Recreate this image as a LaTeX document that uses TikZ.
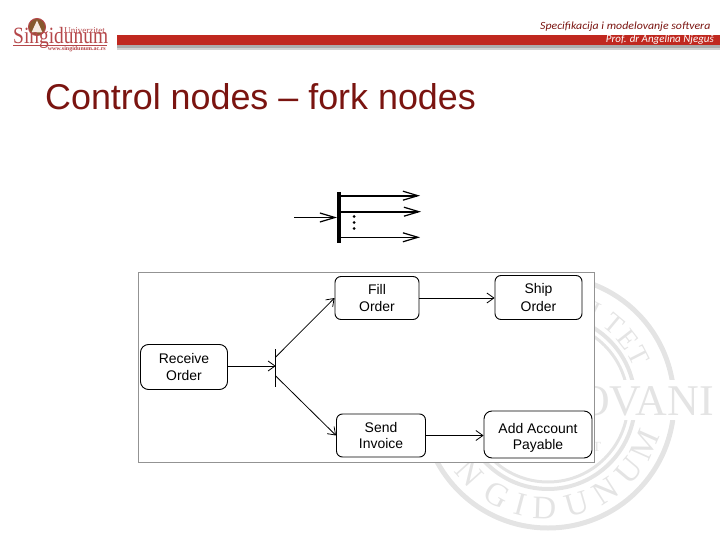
\documentclass[tikz,border=0pt]{standalone}
\usepackage{graphicx}
\usepackage{fontspec}
\setmainfont{Liberation Sans}
\newfontfamily\serifwm{Liberation Serif}
\newfontfamily\hdrfont{Carlito}
\usetikzlibrary{arrows.meta}
\definecolor{barred}{HTML}{C0281F}
\definecolor{titlecol}{HTML}{7A1410}
\definecolor{wm}{HTML}{E4E4E4}
\definecolor{logored}{HTML}{B5474A}
\tikzset{
  x=1bp,y=-1bp,
  act/.style={draw=black,line width=0.9bp,fill=white,rounded corners=6bp,align=center,inner sep=0pt,minimum width=#1},
  tall/.style={font=\fontsize{14}{18}\selectfont},
  short/.style={font=\fontsize{14}{16}\selectfont},
  flow/.style={draw=black,line width=0.8bp,-{Straight Barb[length=7bp,width=10bp,line width=0.8bp]}},
  sym/.style={draw=black,-{Straight Barb[length=15bp,width=9bp,line width=1.2bp]}},
  wmletter/.style={text=wm,font=\serifwm\fontsize{33}{33}\selectfont,inner sep=0pt},
  wmtop/.style={text=wm,font=\serifwm\fontsize{28}{28}\selectfont,inner sep=0pt},
}
\begin{document}
\begin{tikzpicture}
\useasboundingbox (0,0) rectangle (720,540);
% watermark
\draw[wm,line width=5bp] (548,402) circle (126);
\draw[wm,line width=4bp] (548,402) circle (87);
\draw[wm,line width=3bp] (548,402) circle (80);
\foreach \l/\a [count=\i] in {I/63,T/50,E/38,T/27}{
  \node[wmtop,rotate=\a-90] (top\i) at ({548+102*cos(\a)},{402-102*sin(\a)}) {\l};
}
\foreach \l/\a [count=\i] in {N/222,G/241,I/255,D/268,U/286,N/303,U/320,M/336}{
  \node[wmletter,rotate=\a+90] (bot\i) at ({548+106*cos(\a)},{402-106*sin(\a)}) {\l};
}
\fill[white] (420,380) rectangle (720,420);
\node[text=wm,font=\serifwm\fontsize{44}{44}\selectfont,anchor=base east,inner sep=0pt] (wmt) at (714,415) {OVANI};
\node[text=wm,font=\serifwm\fontsize{14}{14}\selectfont,inner sep=0pt] (wmsmall) at (597,447) {T};
% header bar
\fill[gray!35] (117,46) rectangle (720,50);
\fill[gray!65] (117,45) rectangle (720,48);
\fill[barred] (117,35) rectangle (720,45.5);
\node[font=\hdrfont\itshape\fontsize{11}{11}\selectfont,text=titlecol,anchor=base west,inner sep=0pt] (h1) at (540,29.5) {\scalebox{1.08}[1]{Specifikacija i modelovanje softvera}};
\node[font=\hdrfont\itshape\fontsize{11}{11}\selectfont,text=white,anchor=east,inner sep=0pt] (h2) at (714,40) {Prof. dr Angelina Njeguš};
% logo
\draw[draw=logored,fill=brown!70!black,line width=1bp] (37,27) circle (8.5);
\fill[white!85!brown] (37,20.5) -- (42.5,32.5) -- (31.5,32.5) -- cycle;
\node[font=\serifwm\fontsize{19.5}{20}\selectfont,text=logored,anchor=base west,inner sep=0pt] (l1) at (13,44) {\scalebox{1}[1.2]{Singidunum}};
\draw[logored,line width=0.5bp] (13,45.5) -- (107,45.5);
\node[font=\serifwm\fontsize{9}{9}\selectfont,text=logored,anchor=base east,inner sep=0pt] (l2) at (105,33.5) {Univerzitet};
\node[font=\serifwm\bfseries\fontsize{6}{6}\selectfont,text=logored,anchor=base east,inner sep=0pt] (l3) at (106,51) {www.singidunum.ac.rs};
% title
\node[font=\fontsize{36}{36}\selectfont,text=titlecol,anchor=base west,inner sep=0pt] (title) at (45,110) {Control nodes – fork nodes};
% fork symbol
\coordinate (sb1) at (339,192); \coordinate (sb2) at (339,243);
\draw[line width=3.5bp] (sb1) -- (sb2);
\coordinate (in0) at (294,217.5); \coordinate (in1) at (337,217.5);
\draw[sym,line width=1.8bp] (in0) -- (in1);
\coordinate (o1a) at (341,195.7); \coordinate (o1b) at (420,195.7);
\coordinate (o2a) at (341,211.7); \coordinate (o2b) at (421,211.7);
\coordinate (o3a) at (341,237.3); \coordinate (o3b) at (420,237.3);
\draw[sym,line width=1.8bp] (o1a) -- (o1b);
\draw[sym,line width=1.8bp] (o2a) -- (o2b);
\draw[sym,line width=1bp] (o3a) -- (o3b);
\fill (354,216.5) circle (1.5) (354,222.5) circle (1.5) (354,228.5) circle (1.5);
% frame
\draw[draw=gray!85,fill=white,line width=0.9bp] (138,272) rectangle (594,462);
% activities
\node[act=87bp,minimum height=45bp,tall,rounded corners=8bp] (rec) at (184,367) {Receive\\Order};
\node[act=84bp,minimum height=43bp,tall] (fill) at (377,298) {Fill\\Order};
\node[act=87bp,minimum height=44bp,tall] (ship) at (538.5,297.5) {Ship\\Order};
\node[act=89bp,minimum height=43bp,short] (send) at (381,435.5) {Send\\Invoice};
\node[act=108bp,minimum height=47bp,short,rounded corners=8bp] (add) at (538,434.5) {\rule{0pt}{16bp}Add Account\\Payable};
% fork bar
\coordinate (f1) at (275.7,349); \coordinate (f2) at (275.7,387);
\draw[line width=0.9bp] (f1) -- (f2);
\coordinate (fin) at (275.7,366);
\coordinate (fu) at (275.7,357);
\coordinate (fd) at (275.7,376);
\draw[flow] (rec.east |- fin) -- (fin);
\draw[flow] (fu) -- (fill.west);
\draw[flow] (fd) -- (send.west);
\draw[flow] (fill.east) -- (ship.west |- fill.east);
\draw[flow] (send.east) -- (add.west |- send.east);
\end{tikzpicture}
\end{document}
